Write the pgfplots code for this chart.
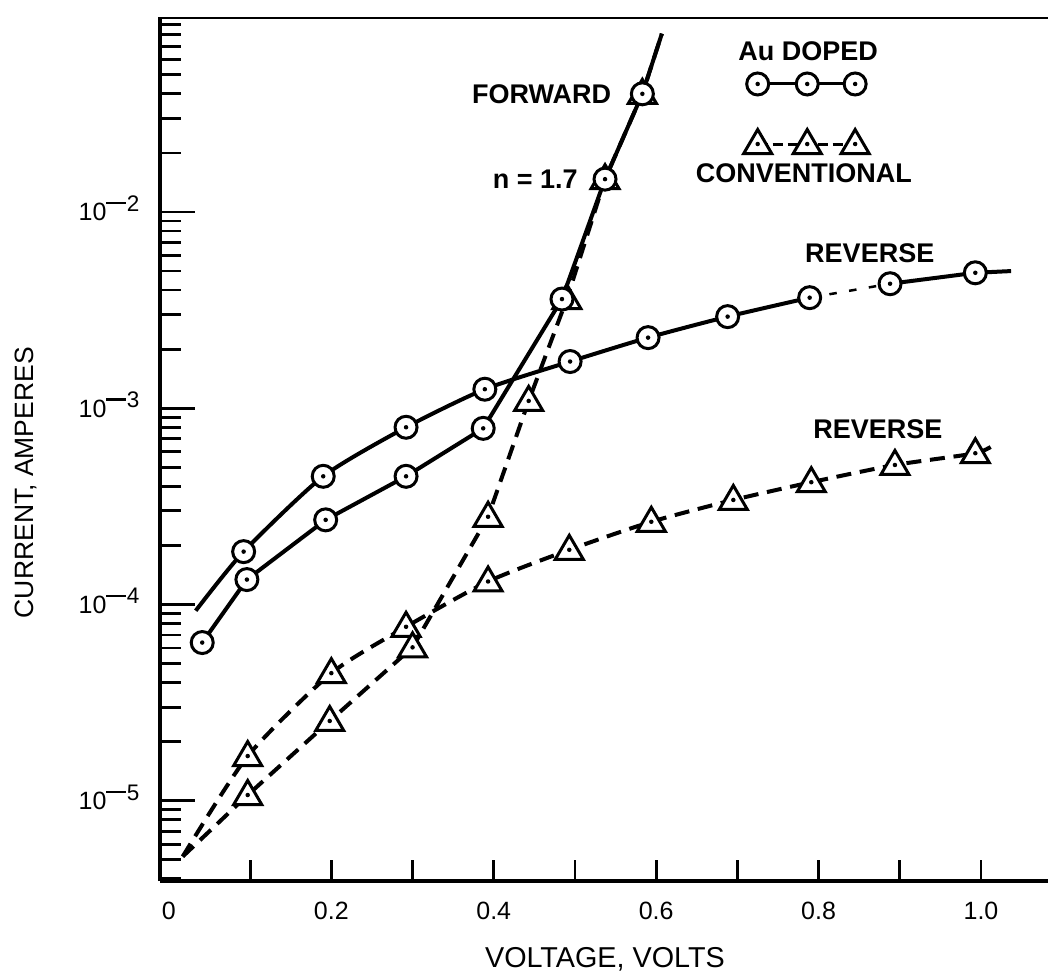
\documentclass[border=0pt]{standalone}
\usepackage{fontspec}
\setmainfont{Liberation Sans}
\usepackage{pgfplots}
\pgfplotsset{compat=1.18}

% circle with centre dot / triangle with centre dot
\pgfdeclareplotmark{cdot}{%
  \pgfpathcircle{\pgfpointorigin}{4.4pt}\pgfusepathqfillstroke
  \pgfscope
  \pgfsetfillcolor{black}%
  \pgfpathcircle{\pgfpointorigin}{0.9pt}\pgfusepathqfill
  \endpgfscope}
\pgfdeclareplotmark{tdot}{%
  \pgfpathmoveto{\pgfpoint{0pt}{5.8pt}}%
  \pgfpathlineto{\pgfpoint{-5.6pt}{-3.8pt}}%
  \pgfpathlineto{\pgfpoint{5.6pt}{-3.8pt}}%
  \pgfpathclose\pgfusepathqfillstroke
  \pgfscope
  \pgfsetfillcolor{black}%
  \pgfpathcircle{\pgfpointorigin}{0.9pt}\pgfusepathqfill
  \endpgfscope}

\newcommand{\dec}[1]{10\raisebox{3.9pt}{\fontsize{9}{10}\selectfont\rule[0.3em]{0.85em}{0.1em}\kern0.06em#1}}

\pgfplotsset{
  au/.style={black, line width=1.6pt, mark=cdot,
    mark options={solid, fill=white, line width=1.2pt}},
  conv/.style={black, line width=1.6pt, dash pattern=on 6pt off 3.5pt, mark=tdot,
    mark options={solid, fill=white, line width=1.2pt}},
}

\begin{document}
\begin{tikzpicture}
\begin{axis}[
  scale only axis, width=355.2pt, height=345.6pt,
  ymode=log,
  xmin=-0.011, xmax=1.0825, ymin=3.9e-6, ymax=0.0985,
  axis x line*=bottom, axis y line*=left,
  axis line style={line width=1.4pt},
  tick align=inside,
  xtick={0,0.2,0.4,0.6,0.8,1.0},
  xticklabels={0,0.2,0.4,0.6,0.8,1.0},
  minor xtick={0.1,0.2,0.3,0.4,0.5,0.6,0.7,0.8,0.9,1.0},
  major x tick style={draw=none},
  ytick={1e-5,1e-4,1e-3,1e-2},
  yticklabels={\dec{5},\dec{4},\dec{3},\dec{2}},
  minor ytick={4e-6,5e-6,6e-6,7e-6,8e-6,9e-6,
    2e-5,3e-5,4e-5,5e-5,6e-5,7e-5,8e-5,9e-5,
    2e-4,3e-4,4e-4,5e-4,6e-4,7e-4,8e-4,9e-4,
    2e-3,3e-3,4e-3,5e-3,6e-3,7e-3,8e-3,9e-3,
    2e-2,3e-2,4e-2,5e-2,6e-2,7e-2,8e-2,9e-2},
  major tick length=14pt, minor tick length=8.5pt,
  tick style={black, line width=1.1pt},
  tick label style={font=\fontsize{10}{12}\selectfont},
  xticklabel style={anchor=north, yshift=-4.7pt},
  yticklabel style={anchor=base east, xshift=-4.7pt, yshift=-3.6pt},
  xlabel={VOLTAGE, VOLTS},
  ylabel={CURRENT, AMPERES},
  xlabel style={at={(axis description cs:0.501,-0.0903)}, anchor=center,
    font=\fontsize{11.5}{13}\selectfont},
  ylabel style={at={(axis description cs:-0.1509,0.461)}, anchor=center,
    font=\fontsize{10.6}{13}\selectfont},
]

% conventional, reverse
\addplot[conv, smooth, tension=0.4, mark indices={2,3,4,5,6,7,8,9,10,11}] coordinates {
  (0.017,5.2e-6) (0.097,1.69e-5) (0.200,4.47e-5) (0.292,7.7e-5) (0.393,1.31e-4)
  (0.493,1.90e-4) (0.594,2.64e-4) (0.695,3.41e-4) (0.791,4.2e-4) (0.894,5.14e-4)
  (0.993,5.9e-4) (1.018,6.6e-4)
};
% conventional, forward
\addplot[conv, mark indices={2,3,4,5,6,7,8,9}] coordinates {
  (0.017,5.2e-6) (0.097,1.07e-5) (0.198,2.55e-5) (0.300,6.05e-5) (0.393,2.8e-4)
  (0.443,1.09e-3) (0.490,3.6e-3) (0.537,1.47e-2) (0.583,4.0e-2) (0.607,8.1e-2)
};

% Au doped, reverse (broken stretch between 0.8 and 0.9)
\addplot[black, line width=1pt, dash pattern=on 3pt off 5pt] coordinates {
  (0.789,3.66e-3) (0.888,4.31e-3)
};
\addplot[au, smooth, tension=0.4, mark indices={2,3,4,5,6,7,8,9}] coordinates {
  (0.033,9.3e-5) (0.092,1.86e-4) (0.190,4.5e-4) (0.292,8.0e-4) (0.389,1.25e-3)
  (0.494,1.73e-3) (0.590,2.29e-3) (0.688,2.93e-3) (0.789,3.66e-3)
};
\addplot[au, mark indices={1,2}] coordinates {
  (0.888,4.31e-3) (0.993,4.9e-3) (1.037,5.0e-3)
};
% Au doped, forward
\addplot[au, mark indices={1,2,3,4,5,6,7,8}] coordinates {
  (0.041,6.4e-5) (0.096,1.34e-4) (0.193,2.7e-4) (0.292,4.5e-4) (0.387,7.9e-4)
  (0.484,3.6e-3) (0.537,1.47e-2) (0.583,4.0e-2) (0.607,8.1e-2)
};

% key
\addplot[au, line width=1.2pt] coordinates {(0.725,0.0449) (0.786,0.0449) (0.845,0.0449)};
\addplot[conv, line width=1.2pt, dash pattern=on 4pt off 2pt] coordinates {(0.725,0.0222) (0.786,0.0222) (0.845,0.0222)};

\begin{scope}[every node/.style={font=\bfseries\fontsize{10.8}{13}\selectfont, anchor=center, inner sep=0pt}]
  \node at (axis cs:0.787,0.0661) {Au DOPED};
  \node at (axis cs:0.782,0.0158) {CONVENTIONAL};
  \node at (axis cs:0.459,0.0399) {FORWARD};
  \node at (axis cs:0.451,0.0147) {n = 1.7};
  \node at (axis cs:0.863,6.18e-3) {REVERSE};
  \node at (axis cs:0.873,7.85e-4) {REVERSE};
\end{scope}

\draw[line width=1.4pt] (rel axis cs:0,1) -- (rel axis cs:1,1);
\end{axis}
\pgfresetboundingbox
\path[use as bounding box] ([shift={(-64pt,-37.2pt)}]current axis.south west)
  rectangle ([shift={(0pt,6.8pt)}]current axis.north east);
\end{tikzpicture}
\end{document}
